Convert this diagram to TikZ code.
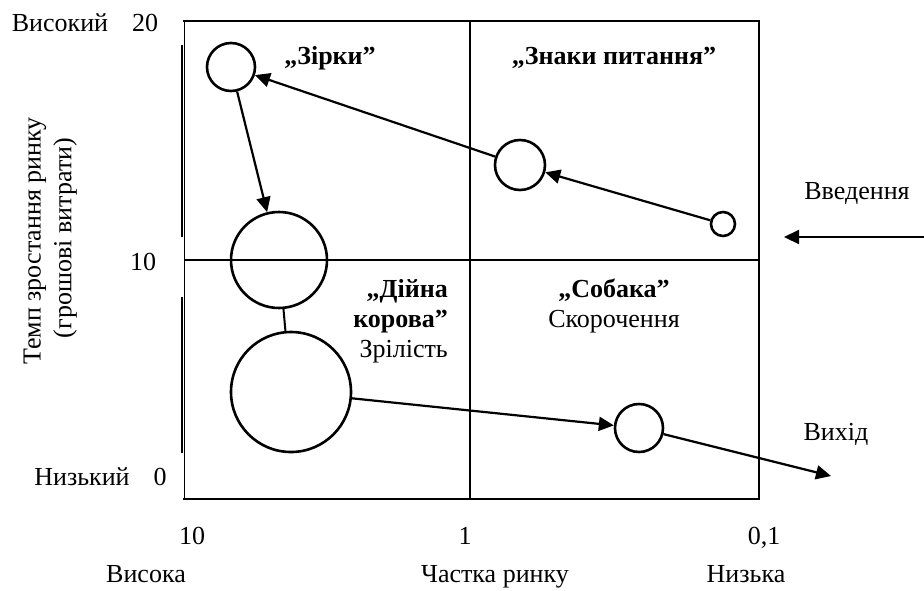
\documentclass[tikz,border=0pt]{standalone}
\usepackage{fontspec}
\setmainfont{Liberation Serif}
\usetikzlibrary{arrows.meta}
\begin{document}
\begin{tikzpicture}[x=1pt,y=-1pt,
 lbl/.style={font=\fontsize{26}{30}\selectfont, inner sep=0pt, anchor=base},
 ttl/.style={font=\fontsize{26}{30}\selectfont\bfseries, inner sep=0pt, anchor=base},
 bub/.style={circle, draw, line width=2.6pt, inner sep=0pt},
 arr/.style={line width=2.2pt, -{Triangle[length=15pt,width=14pt]}},
 frame/.style={line width=2.2pt}]
\useasboundingbox (0,0) rectangle (924,590);
% frame
\draw[line width=1pt] (184,21) -- (184,499);
\draw[frame] (183,21) -- (759,21) -- (759,499) -- (183,499);
\draw[frame] (184,260) -- (759,260);
\draw[frame] (470,21) -- (470,499);
\draw[line width=2.4pt] (182,45) -- (182,237);
\draw[line width=2.4pt] (182,297) -- (182,453);
% bubbles
\node[bub, minimum size=48pt] (star) at (231,67) {};
\node[bub, minimum size=50pt] (quest) at (520,165) {};
\node[bub, minimum size=24pt] (small) at (723,224) {};
\node[bub, minimum size=96pt] (cow1) at (279,260) {};
\node[bub, minimum size=120pt] (cow2) at (291,392) {};
\node[bub, minimum size=48pt] (dog) at (639,428) {};
\coordinate (inS) at (924,237);
\coordinate (inE) at (784,237);
\coordinate (outE) at (831,476);
% connectors
\draw[arr] (small) -- (quest);
\draw[arr] (quest) -- (star);
\draw[arr] (star) -- (cow1);
\draw[line width=2pt] (cow1) -- (cow2);
\draw[arr] (cow2) -- (dog);
\draw[arr] (dog) -- (outE);
\draw[arr] (inS) -- (inE);
% quadrant titles
\node[ttl] (tstar) at (330,64) {„Зірки”};
\node[ttl] (tquest) at (614,64) {„Знаки питання”};
\node[ttl, anchor=base east] (tcow1) at (448,297) {„Дійна};
\node[ttl, anchor=base east] (tcow2) at (448,327) {корова”};
\node[lbl, anchor=base east] (tcow3) at (448,357) {Зрілість};
\node[ttl] (tdog) at (614,297) {„Собака”};
\node[lbl] (tdog2) at (614,327) {Скорочення};
% axis labels
\node[lbl] (hi) at (60,31) {Високий};
\node[lbl] (v20) at (145,31) {20};
\node[lbl] (v10) at (143,270) {10};
\node[lbl] (lo) at (82,485) {Низький};
\node[lbl] (v0) at (160,485) {0};
\node[font=\fontsize{26}{30}\selectfont, inner sep=0pt, rotate=90] (ylab1) at (35,241) {Темп зростання ринку};
\node[font=\fontsize{26}{30}\selectfont, inner sep=0pt, rotate=90] (ylab2) at (65,238) {(грошові витрати)};
\node[lbl] (x10) at (192,544) {10};
\node[lbl] (x1) at (465,544) {1};
\node[lbl] (x01) at (764,544) {0,1};
\node[lbl] (xhi) at (146,582) {Висока};
\node[lbl] (xlab) at (495,582) {Частка ринку};
\node[lbl] (xlo) at (746,582) {Низька};
\node[lbl] (intro) at (857,199) {Введення};
\node[lbl] (exit) at (836,440) {Вихід};
\end{tikzpicture}
\end{document}
